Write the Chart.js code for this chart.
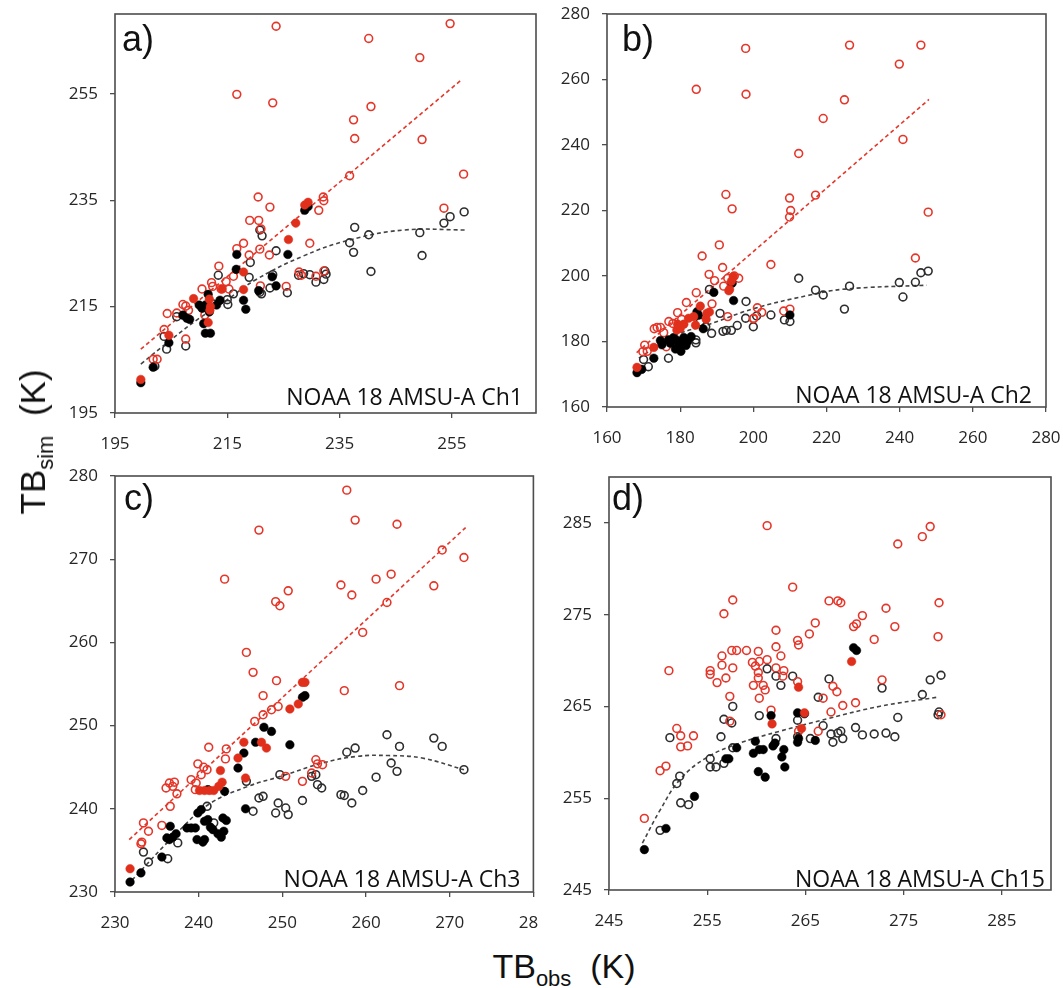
<!DOCTYPE html>
<html>
<head>
<meta charset="utf-8">
<script src="https://cdn.jsdelivr.net/npm/chart.js@4.4.1/dist/chart.umd.min.js"></script>
<style>
html,body{margin:0;padding:0;background:#fff;width:1063px;height:988px;overflow:hidden;position:relative;}
canvas{position:absolute;display:block;}
.title{position:absolute;font-family:"Liberation Sans",Arial,sans-serif;color:#111;white-space:nowrap;line-height:34px;}
.title sub{font-size:22px;line-height:0;vertical-align:baseline;position:relative;top:8px;}
#ytitle{left:33px;top:442px;font-size:35px;transform:translate(-50%,-50%) rotate(-90deg);}
#xtitle{left:564px;top:949px;font-size:34px;transform:translateX(-50%);}
</style>
</head>
<body>
<canvas id="ca" width="510" height="460" style="left:40px;top:0px;width:510px;height:460px"></canvas>
<canvas id="cb" width="515" height="460" style="left:545px;top:0px;width:515px;height:460px"></canvas>
<canvas id="cc" width="499" height="480" style="left:40px;top:462px;width:499px;height:480px"></canvas>
<canvas id="cd" width="515" height="480" style="left:545px;top:462px;width:515px;height:480px"></canvas>
<div class="title" id="ytitle">TB<sub>sim</sub>&nbsp;&nbsp;(K)</div>
<div class="title" id="xtitle">TB<sub>obs</sub>&nbsp;&nbsp;(K)</div>
<script>
// ---------------- tick labels ----------------
const aXTicks = [195, 215, 235, 255];
const aYTicks = [195, 215, 235, 255];
const bXTicks = [160, 180, 200, 220, 240, 260, 280];
const bYTicks = [160, 180, 200, 220, 240, 260, 280];
const cXTicks = [230, 240, 250, 260, 270, 280];
const cYTicks = [230, 240, 250, 260, 270, 280];
const dXTicks = [245, 255, 265, 275, 285];
const dYTicks = [245, 255, 265, 275, 285];

// ---------------- panel texts ----------------
const panelLabels = ["a)", "b)", "c)", "d)"];
const panelCaptions = ["NOAA 18 AMSU-A Ch1", "NOAA 18 AMSU-A Ch2", "NOAA 18 AMSU-A Ch3", "NOAA 18 AMSU-A Ch15"];

// ---------------- panel a (Ch1) ----------------
const aRedOpen = [[223.7,267.7],[254.7,268.2],[240.2,265.4],[249.3,261.8],[216.7,254.9],[223.1,253.3],[240.6,252.6],[237.5,250.1],[237.7,246.6],[249.7,246.4],[236.8,239.6],[257.1,239.9],[232.1,235.6],[232.2,234.9],[231.3,233.1],[253.6,233.5],[220.5,235.6],[222.6,233.7],[219.0,231.2],[220.6,231.2],[221.0,229.6],[229.7,226.9],[217.9,226.9],[216.7,225.9],[220.8,225.8],[218.9,224.7],[222.5,224.7],[213.5,222.6],[216.1,220.7],[227.8,221.5],[228.2,220.9],[232.2,221.7],[230.8,220.7],[212.2,219.5],[212.4,218.8],[214.8,219.7],[220.9,218.9],[225.5,218.8],[210.5,218.3],[215.3,218.3],[213.9,218.3],[207.1,215.4],[207.6,215.1],[204.3,213.7],[206.0,213.8],[211.0,213.4],[208.1,214.3],[203.75,210.7],[207.6,208.9],[201.8,205.1],[202.5,205.1]];
const aRedFilled = [[199.6,201.3],[204.6,209.6],[209.0,216.5],[211.8,216.4],[212.0,215.0],[211.9,214.3],[211.6,212.0],[214.1,218.3],[217.9,221.5],[217.9,218.2],[225.9,227.6],[227.2,230.7],[228.8,234.1],[229.4,234.6]];
const aBlackOpen = [[202.1,203.8],[204.2,207.0],[203.75,209.4],[206.0,213.1],[207.6,207.6],[213.4,220.9],[215.1,215.4],[216.1,217.4],[219.1,223.3],[218.9,220.5],[220.8,229.4],[221.2,228.3],[223.7,225.5],[220.8,217.7],[221.1,217.4],[222.6,218.5],[223.1,221.0],[225.7,217.6],[227.7,220.9],[228.6,221.2],[229.7,221.0],[230.8,219.6],[232.2,220.1],[232.6,221.1],[232.4,221.7],[236.8,227.0],[237.5,225.2],[237.7,229.9],[240.2,228.5],[240.6,221.6],[249.3,228.9],[249.7,224.6],[253.6,230.7],[254.7,231.9],[257.2,232.8],[215.0,216.3],[212.5,215.5]];
const aBlackFilled = [[199.6,200.7],[201.8,203.6],[204.6,208.2],[207.1,213.4],[207.8,212.8],[208.3,212.6],[210.0,215.3],[210.5,214.7],[211.1,215.3],[210.8,211.8],[211.1,210.0],[212.0,210.0],[211.6,217.3],[211.8,214.0],[213.1,215.3],[213.7,216.2],[216.7,224.8],[216.6,222.0],[217.9,216.2],[218.3,214.5],[220.6,218.0],[223.0,220.6],[223.7,218.9],[225.8,224.8],[228.8,233.1],[229.4,233.8]];
const aRedFit = [[199.6,207.0],[256.8,257.7]];
const aBlackFit = [[199.6,204.2],[205,208.8],[210,212.8],[215,216.3],[220,220.0],[228.3,224.4],[236.7,227.5],[246.5,229.4],[257.5,229.4]];

// ---------------- panel b (Ch2) ----------------
const bRedOpen = [[197.9,269.5],[226.3,270.5],[245.8,270.5],[239.9,264.7],[184.4,257.0],[198.0,255.5],[224.9,253.8],[219.1,248.1],[240.9,241.7],[212.4,237.4],[192.5,224.9],[194.2,220.5],[209.9,223.8],[210.2,220.0],[209.9,218.0],[217.0,224.7],[247.8,219.5],[190.7,209.5],[186.0,206.1],[204.8,203.5],[244.3,205.5],[191.6,202.6],[187.9,200.5],[189.4,198.6],[191.9,196.9],[193.0,199.3],[194.8,200.0],[196.0,199.3],[184.4,194.9],[188.7,191.5],[181.7,191.9],[193.0,187.6],[201.1,190.3],[200.1,187.1],[202.3,188.9],[200.0,186.9],[208.3,189.3],[210.0,189.9],[179.3,188.8],[180.4,186.8],[176.9,186.1],[178.0,185.5],[173.7,184.3],[174.6,184.3],[172.9,183.9],[175.5,182.7],[170.3,178.9],[169.8,176.9],[176.2,178.4],[171.0,177.0]];
const bRedFilled = [[168.2,172.1],[172.8,178.2],[179.3,185.3],[179.1,183.5],[181.0,185.3],[182.3,187.1],[183.7,187.6],[184.2,185.0],[185.5,190.8],[187.3,188.6],[188.0,189.0],[187.1,186.8],[193.5,195.9],[194.5,199.8],[194.0,198.4],[193.3,195.5],[180.0,184.0]];
const bBlackOpen = [[171.3,172.3],[170.0,174.5],[176.8,174.9],[184.3,180.5],[184.3,179.6],[188.6,182.5],[190.9,188.6],[191.7,183.1],[192.6,183.4],[194.0,183.4],[195.6,184.9],[198.0,192.2],[197.9,187.1],[200.0,184.5],[200.9,187.8],[204.8,188.1],[208.5,186.6],[210.0,186.1],[212.4,199.3],[217.0,195.7],[219.1,194.2],[224.9,189.9],[226.3,196.9],[239.9,198.0],[240.9,193.6],[244.3,198.1],[245.8,201.0],[247.8,201.5],[188.0,195.9],[185.5,186.0],[187.0,184.5]];
const bBlackFilled = [[168.2,170.5],[169.5,171.5],[172.8,174.9],[174.6,180.3],[175.0,179.0],[176.8,180.5],[177.3,179.5],[178.2,181.2],[179.1,180.4],[178.7,177.7],[179.3,178.2],[180.5,179.3],[181.0,181.2],[181.6,178.8],[180.2,177.0],[182.0,180.0],[183.0,181.5],[184.6,189.1],[186.3,183.9],[189.2,195.0],[194.2,197.8],[194.6,192.5],[210.0,188.1],[185.0,188.0]];
const bRedFit = [[168.1,176.6],[248.0,253.9]];
const bBlackFit = [[168.7,174.9],[175,179.5],[180,182.5],[187.3,185.0],[200,190.0],[214.7,194.0],[225,196.0],[247.4,197.2]];

// ---------------- panel c (Ch3) ----------------
const cRedOpen = [[257.7,278.3],[258.7,274.7],[263.7,274.2],[247.2,273.5],[269.1,271.1],[271.7,270.2],[243.1,267.6],[261.2,267.6],[263.0,268.2],[257.0,266.9],[268.1,266.8],[250.7,266.2],[258.3,265.7],[249.2,264.9],[249.7,264.4],[262.5,264.8],[259.6,261.2],[245.7,258.8],[246.5,256.4],[249.3,255.4],[257.4,254.2],[264.0,254.8],[247.7,253.6],[247.7,251.3],[248.7,251.9],[249.5,252.3],[246.7,250.5],[241.2,247.4],[243.3,247.2],[243.2,246.0],[239.9,245.4],[240.6,245.0],[241.0,244.7],[240.3,244.1],[239.1,243.5],[239.7,243.1],[239.6,242.3],[236.1,242.5],[236.5,243.1],[237.1,243.2],[236.9,242.7],[237.4,241.8],[236.6,240.3],[233.4,238.3],[234.0,237.3],[233.1,235.8],[233.2,236.0],[235.6,238.0],[254.0,245.9],[254.2,245.4],[254.8,245.3],[253.5,244.3],[250.4,243.9],[252.4,243.3]];
const cRedFilled = [[231.8,232.8],[240.1,242.2],[240.7,242.2],[241.3,242.2],[241.8,242.2],[242.4,242.7],[242.8,243.2],[242.6,244.6],[244.7,246.1],[245.4,248.0],[245.6,243.7],[247.5,248.0],[248.1,247.3],[250.9,252.0],[251.9,252.6],[252.4,255.2],[252.7,255.2]];
const cBlackOpen = [[233.4,234.8],[234.0,233.6],[236.3,234.0],[237.5,235.9],[241.0,240.3],[241.8,238.3],[245.7,243.3],[246.5,239.7],[247.2,241.3],[247.7,241.5],[249.2,239.5],[249.5,240.7],[249.7,244.1],[250.4,240.1],[250.7,239.3],[252.4,241.0],[253.5,243.9],[254.0,244.1],[254.2,242.9],[254.7,242.5],[257.0,241.7],[257.4,241.6],[257.7,246.8],[258.7,247.3],[258.3,240.7],[259.6,242.2],[261.2,243.8],[262.5,248.9],[263.0,245.5],[263.7,244.5],[264.0,247.5],[268.1,248.5],[269.1,247.5],[271.7,244.7]];
const cBlackFilled = [[231.8,231.2],[233.1,232.3],[235.6,234.2],[236.6,237.9],[236.2,236.5],[236.5,236.3],[236.9,236.6],[237.3,237.0],[239.1,237.7],[239.6,237.7],[239.9,239.5],[240.3,239.9],[239.8,236.3],[240.5,236.0],[240.7,236.3],[240.7,238.5],[241.1,238.7],[241.7,237.5],[242.3,237.0],[242.7,236.6],[243.0,237.3],[242.9,238.9],[243.3,238.6],[241.1,242.3],[243.1,242.1],[245.6,240.0],[244.7,244.9],[245.4,246.7],[246.8,248.0],[247.8,249.8],[248.7,249.3],[250.9,247.7],[252.4,253.4],[252.7,253.6],[238.6,237.7],[241.4,237.8]];
const cRedFit = [[231.7,236.3],[271.9,273.8]];
const cBlackFit = [[232.0,231.4],[237.4,237.1],[241.3,240.6],[245.9,242.7],[249.8,243.9],[254.8,245.5],[258.9,246.3],[262.7,246.4],[266.7,246.1],[271.7,244.7]];

// ---------------- panel d (Ch15) ----------------
const dRedOpen = [[261.1,284.7],[277.7,284.6],[276.9,283.5],[274.4,282.7],[263.7,278.0],[257.6,276.6],[256.7,275.1],[267.4,276.5],[268.3,276.5],[268.6,276.3],[278.6,276.3],[273.2,275.7],[270.8,274.9],[266.0,274.1],[269.9,273.7],[270.2,274.0],[274.1,273.7],[265.4,272.9],[262.0,273.3],[264.2,272.2],[264.3,271.7],[272.0,272.3],[278.5,272.6],[262.0,271.5],[262.5,270.5],[259.0,271.1],[260.2,271.0],[259.6,269.8],[257.5,271.1],[258.0,271.1],[256.5,270.5],[256.5,269.5],[257.6,269.2],[255.3,268.9],[255.3,268.5],[256.9,268.1],[256.0,267.6],[257.3,266.1],[259.9,269.4],[260.3,269.9],[261.1,270.1],[260.2,268.7],[260.2,268.1],[262.0,269.2],[262.8,268.9],[262.7,268.3],[259.7,267.3],[260.7,267.3],[260.9,266.8],[260.3,265.9],[264.2,267.7],[267.8,267.2],[268.2,266.6],[266.8,265.9],[272.8,267.9],[270.1,265.4],[268.8,265.1],[267.6,264.4],[261.5,264.6],[251.1,268.9],[251.9,262.6],[252.3,261.8],[252.3,260.6],[253.6,261.8],[253.0,260.7],[250.2,258.0],[250.8,258.5],[248.6,252.8],[257.3,263.4],[264.3,262.3],[266.3,262.3],[278.8,264.1]];
const dRedFilled = [[269.7,269.9],[264.3,267.1],[261.6,263.1],[264.9,264.3],[264.6,262.6]];
const dBlackOpen = [[250.2,251.5],[251.9,256.6],[252.2,257.4],[252.3,254.5],[253.1,254.3],[251.2,261.6],[255.3,259.3],[255.3,258.4],[255.9,258.4],[256.4,261.7],[256.7,263.6],[257.5,263.2],[257.6,265.0],[257.6,260.5],[260.3,264.0],[261.1,269.1],[262.0,268.3],[262.5,267.3],[263.7,268.3],[262.0,261.5],[264.2,263.5],[264.2,261.7],[265.5,261.5],[266.3,266.0],[266.8,262.9],[267.4,268.0],[267.6,262.0],[267.8,261.1],[268.3,262.1],[268.8,261.5],[268.6,262.3],[270.1,262.7],[270.8,261.9],[272.0,262.0],[273.2,262.1],[274.1,261.7],[272.8,267.0],[274.4,263.8],[276.9,266.3],[277.7,267.9],[278.8,268.4],[278.6,264.4],[278.5,264.1],[256.7,258.8]];
const dBlackFilled = [[248.6,249.4],[250.8,251.7],[253.7,255.2],[256.9,259.3],[257.2,259.3],[258.0,260.5],[259.9,261.2],[259.7,259.9],[260.3,260.3],[260.7,260.3],[261.7,260.7],[261.9,261.0],[260.2,257.9],[260.9,257.3],[262.6,259.5],[262.8,260.3],[262.9,258.4],[261.5,264.0],[264.2,264.3],[264.9,264.2],[264.2,261.1],[266.0,261.3],[269.9,271.4],[270.2,271.1],[264.3,261.5]];
const dRedFit = [];
const dBlackFit = [[248.4,250.1],[250.2,253.7],[252.2,257.0],[254.9,259.4],[258.3,261.0],[262.4,262.3],[267.4,263.7],[272.5,265.0],[278.4,266.0]];

// ---------------- styling ----------------
const RED = '#e5362a';
const RED_FILL = '#e0301c';
const BLACK_OPEN = '#2e2e2e';
const AXIS = '#4d4d4d';
const TICK_FONT = {family: '"Open Sans", "DejaVu Sans", sans-serif', size: 17};

function toPts(arr) { return arr.map(p => ({x: p[0], y: p[1]})); }

const panelDecor = {
  id: 'panelDecor',
  beforeDatasetsDraw(chart, args, o) {
    const ctx = chart.ctx, a = chart.chartArea;
    ctx.save();
    ctx.strokeStyle = AXIS;
    ctx.lineWidth = 1.6;
    ctx.strokeRect(a.left, a.top, a.right - a.left, a.bottom - a.top);
    ctx.restore();
  },
  afterDraw(chart, args, o) {
    const ctx = chart.ctx, a = chart.chartArea;
    ctx.save();
    ctx.fillStyle = '#111';
    ctx.textBaseline = 'alphabetic';
    ctx.textAlign = 'left';
    ctx.font = '36px "Liberation Sans", Arial, sans-serif';
    ctx.fillText(o.label, a.left + o.lx, a.top + o.ly);
    ctx.textAlign = 'right';
    ctx.font = '23px "Open Sans", "DejaVu Sans", sans-serif';
    ctx.fillText(o.caption, a.right - o.cx, a.bottom - o.cy);
    ctx.restore();
  }
};

function makePanel(id, s) {
  const ds = [];
  if (s.redFit.length) ds.push({data: toPts(s.redFit), showLine: true, borderColor: RED, borderWidth: 1.6, borderDash: [4, 3], pointRadius: 0, tension: 0, order: 10});
  ds.push({data: toPts(s.blackFit), showLine: true, borderColor: '#444', borderWidth: 1.6, borderDash: [4, 3], pointRadius: 0, tension: 0.4, order: 9});
  ds.push({data: toPts(s.blackOpen), showLine: false, pointRadius: 3.9, pointBorderWidth: 1.6, borderColor: BLACK_OPEN, backgroundColor: 'rgba(0,0,0,0)', pointBorderColor: BLACK_OPEN, pointBackgroundColor: 'rgba(0,0,0,0)', order: 6});
  ds.push({data: toPts(s.redOpen), showLine: false, pointRadius: 3.9, pointBorderWidth: 1.6, borderColor: RED, backgroundColor: 'rgba(0,0,0,0)', pointBorderColor: RED, pointBackgroundColor: 'rgba(0,0,0,0)', order: 5});
  ds.push({data: toPts(s.blackFilled), showLine: false, pointRadius: 4.3, pointBorderWidth: 0.5, borderColor: '#000', backgroundColor: '#000', pointBorderColor: '#000', pointBackgroundColor: '#000', order: 4});
  ds.push({data: toPts(s.redFilled), showLine: false, pointRadius: 4.3, pointBorderWidth: 0.5, borderColor: RED_FILL, backgroundColor: RED_FILL, pointBorderColor: RED_FILL, pointBackgroundColor: RED_FILL, order: 3});

  const common = (ticksArr, min, max) => ({
    type: 'linear', min: min, max: max,
    afterBuildTicks: sc => { sc.ticks = ticksArr.map(v => ({value: v})); },
    grid: {display: true, drawOnChartArea: false, drawTicks: true, tickLength: 5, color: AXIS, lineWidth: 1.3},
    border: {display: false},
    ticks: {font: TICK_FONT, color: '#262626', autoSkip: false, maxRotation: 0, minRotation: 0}
  });
  const x = common(s.xTicks, s.xRange[0], s.xRange[1]);
  x.ticks.padding = 16;
  x.afterFit = sc => { sc.height = s.xH; sc.paddingLeft = 0; sc.paddingRight = 0; };
  const y = common(s.yTicks, s.yRange[0], s.yRange[1]);
  y.ticks.padding = 12;
  y.afterFit = sc => { sc.width = s.yW; sc.paddingTop = 0; sc.paddingBottom = 0; };

  return new Chart(document.getElementById(id), {
    type: 'scatter',
    data: {datasets: ds},
    options: {
      responsive: false, animation: false, devicePixelRatio: 1,
      layout: {padding: {left: 0, top: s.padTop, right: s.padRight, bottom: 0}},
      plugins: {legend: {display: false}, tooltip: {enabled: false}, title: {display: false},
        panelDecor: {label: s.label, caption: s.caption, lx: s.lx, ly: s.ly, cx: s.cx, cy: s.cy}},
      scales: {x: x, y: y}
    },
    plugins: [panelDecor]
  });
}

makePanel('ca', {xTicks: aXTicks, yTicks: aYTicks, xRange: [195, 270], yRange: [195, 270],
  redOpen: aRedOpen, redFilled: aRedFilled, blackOpen: aBlackOpen, blackFilled: aBlackFilled, redFit: aRedFit, blackFit: aBlackFit,
  yW: 75, xH: 47, padTop: 14, padRight: 14, label: panelLabels[0], caption: panelCaptions[0], lx: 7, ly: 37, cx: 13, cy: 8});
makePanel('cb', {xTicks: bXTicks, yTicks: bYTicks, xRange: [160, 280], yRange: [160, 280],
  redOpen: bRedOpen, redFilled: bRedFilled, blackOpen: bBlackOpen, blackFilled: bBlackFilled, redFit: bRedFit, blackFit: bBlackFit,
  yW: 62, xH: 53, padTop: 14, padRight: 14, label: panelLabels[1], caption: panelCaptions[1], lx: 15, ly: 37, cx: 14, cy: 4});
makePanel('cc', {xTicks: cXTicks, yTicks: cYTicks, xRange: [230, 280], yRange: [230, 280],
  redOpen: cRedOpen, redFilled: cRedFilled, blackOpen: cBlackOpen, blackFilled: cBlackFilled, redFit: cRedFit, blackFit: cBlackFit,
  yW: 75, xH: 50, padTop: 14, padRight: 4, label: panelLabels[2], caption: panelCaptions[2], lx: 9, ly: 34, cx: 13, cy: 5});
makePanel('cd', {xTicks: dXTicks, yTicks: dYTicks, xRange: [245, 290], yRange: [245, 290],
  redOpen: dRedOpen, redFilled: dRedFilled, blackOpen: dBlackOpen, blackFilled: dBlackFilled, redFit: dRedFit, blackFit: dBlackFit,
  yW: 64, xH: 52, padTop: 15, padRight: 9, label: panelLabels[3], caption: panelCaptions[3], lx: 3, ly: 33, cx: 6, cy: 3});
</script>
</body>
</html>
